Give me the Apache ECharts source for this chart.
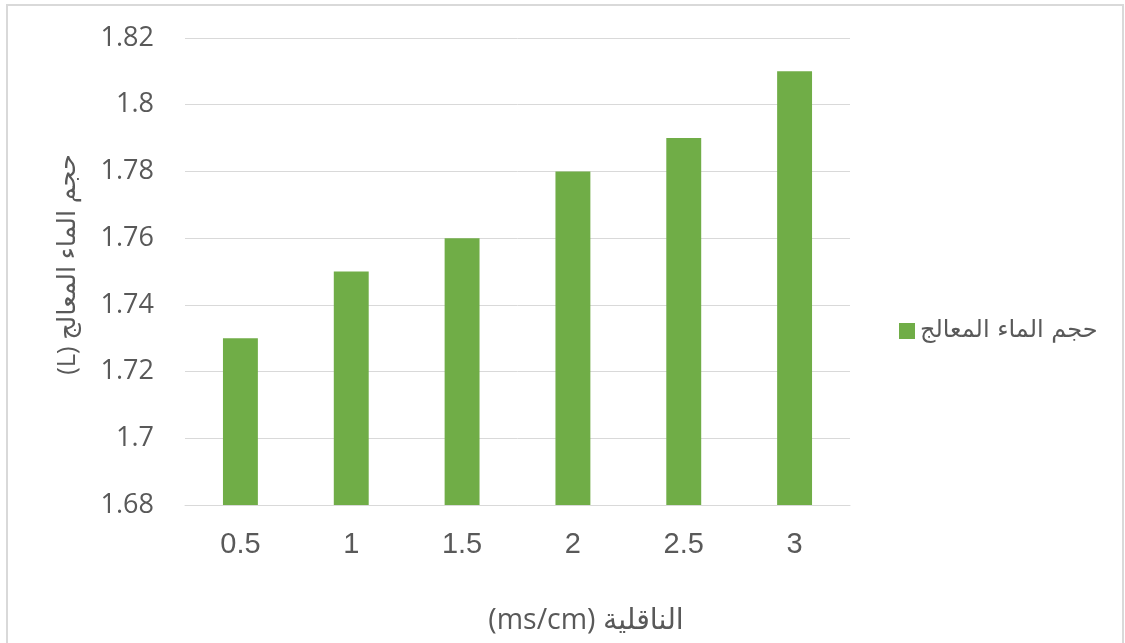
<!DOCTYPE html>
<html>
<head>
<meta charset="utf-8">
<script src="https://cdn.jsdelivr.net/npm/echarts@6/dist/echarts.min.js"></script>
<style>
  html, body { margin: 0; padding: 0; background: #fff; }
  #chart { width: 1125px; height: 643px; }
</style>
</head>
<body>
<div id="chart"></div>
<script>
// Conductivity steps (x) and treated water volume (y)
const categories = ['0.5', '1', '1.5', '2', '2.5', '3'];
const volumes = [1.73, 1.75, 1.76, 1.78, 1.79, 1.81];
const seriesName = 'حجم الماء المعالج';
const yTitle = '(L) حجم الماء المعالج';
const xTitle = '(ms/cm) الناقلية';

const textColor = '#595959';
const gridColor = '#d9d9d9';
const barColor = '#70ad47';
const mixedFont = 'Open Sans, DejaVu Sans';

const chart = echarts.init(document.getElementById('chart'), null, { renderer: 'canvas' });

chart.setOption({
  animation: false,
  backgroundColor: '#ffffff',
  grid: { left: 185, right: 275, top: 38, bottom: 138, containLabel: false },
  legend: {
    data: [seriesName],
    left: 894,
    top: 314,
    icon: 'rect',
    itemWidth: 16,
    itemHeight: 16,
    itemGap: 0,
    textStyle: { color: textColor, fontSize: 24, fontFamily: 'DejaVu Sans' }
  },
  xAxis: {
    type: 'category',
    data: categories,
    axisLine: { show: true, lineStyle: { color: gridColor, width: 1 } },
    axisTick: { show: false },
    axisLabel: { color: textColor, fontSize: 29, fontFamily: 'Liberation Sans', margin: 25 }
  },
  yAxis: {
    type: 'value',
    min: 1.68,
    max: 1.82,
    interval: 0.02,
    name: yTitle,
    nameLocation: 'middle',
    nameGap: 104,
    nameTextStyle: { color: textColor, fontSize: 25.5, fontFamily: mixedFont, padding: [0, 0, 0, 14] },
    axisLine: { show: false },
    axisTick: { show: false },
    splitLine: { lineStyle: { color: gridColor, width: 1 } },
    axisLabel: { color: textColor, fontSize: 27, fontFamily: 'Open Sans', margin: 31 }
  },
  series: [{
    name: seriesName,
    type: 'bar',
    data: volumes,
    barWidth: '31.5%',
    itemStyle: { color: barColor }
  }],
  graphic: [
    {
      type: 'rect',
      silent: true,
      shape: { x: 7, y: 5, width: 1116, height: 660 },
      style: { fill: 'none', stroke: gridColor, lineWidth: 2 }
    },
    {
      type: 'text',
      x: 586,
      y: 621,
      style: {
        text: xTitle, fill: textColor, fontSize: 28.5, fontFamily: mixedFont,
        align: 'center', verticalAlign: 'middle'
      }
    }
  ]
});
</script>
</body>
</html>
